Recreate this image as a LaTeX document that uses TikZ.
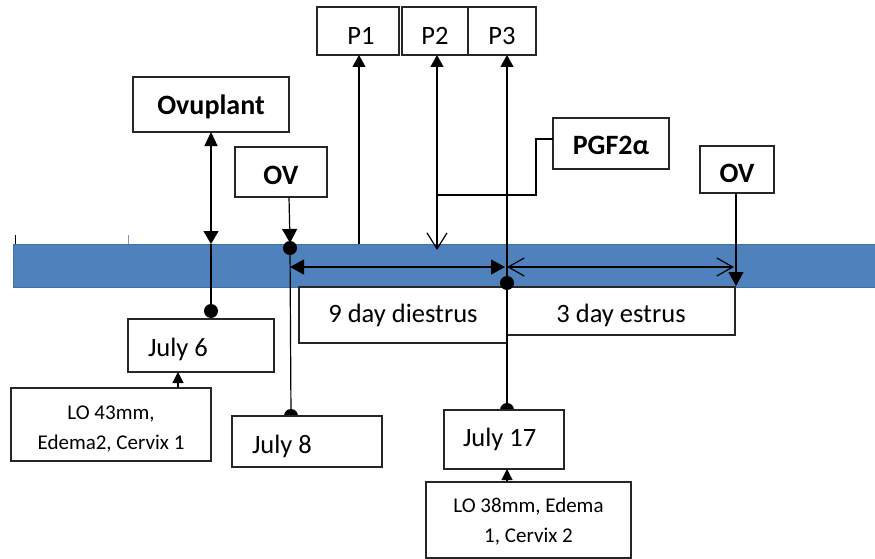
\documentclass[tikz,border=0pt]{standalone}
\usepackage{fontspec}
\setmainfont{Carlito}
\usetikzlibrary{arrows.meta}
\definecolor{bandblue}{HTML}{4F81BD}
\definecolor{bandedge}{HTML}{41719C}
\newcommand{\lowr}[2]{\raisebox{-#1pt}[0pt][0pt]{#2}}
\tikzset{
  box/.style={draw=black!85, line width=1.2pt, fill=white, rectangle, inner sep=0pt, outer sep=0pt},
  big/.style={font=\fontsize{26.5}{30}\selectfont},
  bigb/.style={font=\fontsize{28}{30}\selectfont\bfseries},
  small/.style={font=\fontsize{21}{30}\selectfont},
  conn/.style={line width=1.2pt, black},
  dot/.style={circle, fill=black, inner sep=0pt, minimum size=14pt},
  tri/.style={-{Triangle[length=14pt,width=15pt]}},
  tris/.style={-{Triangle[length=12pt,width=13pt]}},
  trilo/.style={-{Triangle[length=11pt,width=11pt]}},
  barb/.style={-{Straight Barb[length=16pt,width=20pt]}},
}
\begin{document}
\begin{tikzpicture}[x=1pt,y=-1pt]
\useasboundingbox (0,0) rectangle (875,559);
% band
\fill[bandblue] (13,244) rectangle (877,287);
\draw[bandedge, line width=0.8pt] (877,244) -- (13,244) -- (13,287) -- (877,287);
\draw[black, line width=1pt] (15,235) -- (15,244);
\draw[bandblue!80!white, line width=1pt] (128,235) -- (128,244);

% top boxes
\node[box, bigb, minimum width=156pt, minimum height=55pt] (ovu) at (211,104.5) {\lowr{10.5}{Ovuplant}};
\node[box, bigb, minimum width=92pt, minimum height=50pt] (ovl) at (281,172) {\lowr{12.5}{OV}};
\node[box, big, minimum width=82pt, minimum height=48pt] (p1) at (358,31) {\lowr{14}{\hspace{6pt}P1}};
\node[box, big, minimum width=66pt, minimum height=48pt] (p2) at (435,31) {\lowr{14}{P2}};
\node[box, big, minimum width=68pt, minimum height=48pt] (p3) at (502,31) {\lowr{14}{P3}};
\node[box, bigb, minimum width=116pt, minimum height=51pt] (pgf) at (611,143.5) {\lowr{10.5}{PGF2α}};
\node[box, bigb, minimum width=74pt, minimum height=47pt] (ovr) at (737,169.5) {\lowr{12.5}{OV}};

% period boxes
\node[box, big, minimum width=208pt, minimum height=56pt] (dies) at (403,315) {\lowr{7}{9 day diestrus}};
\node[box, big, minimum width=228pt, minimum height=48pt] (estr) at (621,311) {\lowr{11.5}{3 day estrus}};

% coordinates
\coordinate (ovudot) at (211,311);
\coordinate (ovband) at (211,244);
\coordinate (ovltop) at (289,197);
\coordinate (ovltip) at (290,243);
\coordinate (ovldot) at (290,248);
\coordinate (j8dot) at (291,416);
\coordinate (p1foot) at (359,244);
\coordinate (p2foot) at (437,250);
\coordinate (p2elb) at (437,195);
\coordinate (pgfelb) at (536,195);
\coordinate (pgfelb2) at (536,139);
\coordinate (p3dot) at (507,283);
\coordinate (j17dot) at (507,410);
\coordinate (dl) at (290,267);
\coordinate (dr) at (505,267);
\coordinate (el) at (507,267);
\coordinate (er) at (734,267);
\coordinate (ovrtip) at (736,286);
\coordinate (a1) at (178,388);
\coordinate (a2) at (507,482);

% connectors
\draw[conn, {Triangle[length=14pt,width=13pt]}-{Triangle[length=13pt,width=15pt]}] (ovu.south) -- (ovband);
\draw[conn] (ovband) -- (ovudot);
\draw[conn, tri] (ovltop) -- (ovltip);
\draw[conn] (ovldot) -- (j8dot);
\draw[conn, tris] (p1foot) -- (p1.south -| p1foot);
\draw[conn, tris] (p2elb) -- (p2.south -| p2elb);
\draw[conn, barb] (p2elb) -- (p2foot);
\draw[conn] (p2elb) -- (pgfelb) -- (pgfelb2) -- (pgf.west |- pgfelb2);
\draw[conn, tris] (p3dot) -- (p3.south -| p3dot);
\draw[conn] (p3dot) -- (j17dot);
\draw[conn, {Triangle[length=14pt,width=15pt]}-{Triangle[length=14pt,width=15pt]}] (dl) -- (dr);
\draw[conn, {Straight Barb[length=16pt,width=18pt]}-{Straight Barb[length=16pt,width=18pt]}] (el) -- (er);
\draw[conn, tri] (ovr.south -| ovrtip) -- (ovrtip);

% dots
\node[dot] (d1) at (ovudot) {};
\node[dot] (d2) at (ovldot) {};
\node[dot] (d3) at (p3dot) {};
\node[dot] (d4) at (j8dot) {};
\node[dot] (d5) at (j17dot) {};

% date boxes
\node[box, big, minimum width=146pt, minimum height=53pt] (j6) at (201,345.5) {\lowr{10.5}{\makebox[106pt][l]{July 6}}};
\node[box, big, minimum width=150pt, minimum height=51pt] (j8) at (307,441.5) {\lowr{11.5}{\makebox[110pt][l]{July 8}}};
\node[box, big, minimum width=120pt, minimum height=59pt] (j17) at (504,439.5) {\lowr{6.5}{\makebox[82pt][l]{July 17}}};

% info boxes
\node[box, small, minimum width=200pt, minimum height=73pt] (lo43) at (111,424.5) {\lowr{-5.5}{\begin{tabular}[t]{@{}c@{}}LO 43mm,\\Edema2, Cervix 1\end{tabular}}};
\node[box, small, minimum width=205pt, minimum height=76pt] (lo38) at (528.5,520) {\lowr{-8}{\begin{tabular}[t]{@{}c@{}}LO 38mm, Edema\\1, Cervix 2\end{tabular}}};

\draw[conn, trilo] (a1) -- (j6.south -| a1);
\draw[conn, trilo] (a2) -- (j17.south -| a2);
\end{tikzpicture}
\end{document}
